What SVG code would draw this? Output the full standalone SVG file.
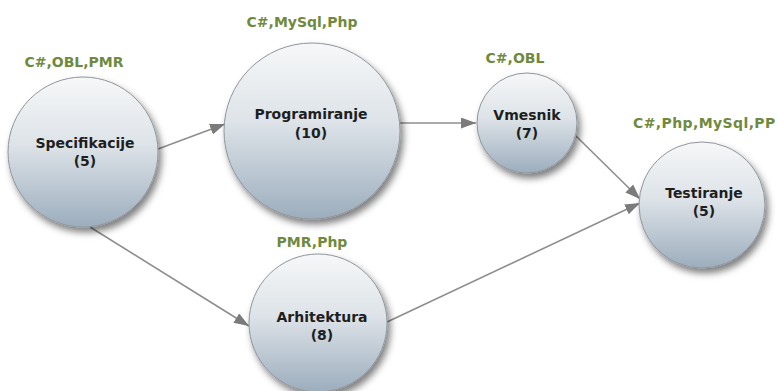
<svg xmlns="http://www.w3.org/2000/svg" width="777" height="391" viewBox="0 0 777 391">
<style>
.node{fill:url(#g);stroke:#8f959b;stroke-width:1;filter:url(#sh)}
.t{font-family:"DejaVu Sans",Verdana,sans-serif;font-weight:bold;font-size:14px;fill:#1e1e1e;text-anchor:middle}
.lb{font-family:"DejaVu Sans",Verdana,sans-serif;font-weight:bold;font-size:14px;fill:#6f8a3c;text-anchor:middle}
.c{stroke:#8e8e8e;stroke-width:1.6;fill:none;marker-end:url(#a)}
</style>
<defs>
<linearGradient id="g" x1="0" y1="0" x2="0" y2="1">
<stop offset="0" stop-color="#f6f7f8"/>
<stop offset="0.45" stop-color="#dde3e8"/>
<stop offset="1" stop-color="#9cadbd"/>
</linearGradient>
<filter id="sh" x="-30%" y="-30%" width="160%" height="160%">
<feDropShadow dx="3" dy="5" stdDeviation="3.5" flood-color="#000" flood-opacity="0.5"/>
</filter>
<marker id="a" markerUnits="userSpaceOnUse" markerWidth="16" markerHeight="12" refX="15" refY="5.5" orient="auto">
<path d="M0,0 L15,5.5 L0,11 z" fill="#7b7b7b"/>
</marker>
</defs>
<rect width="777" height="391" fill="#ffffff"/>
<g id="connectors">
<line class="c" x1="158" y1="149" x2="225" y2="124"/>
<line class="c" x1="400" y1="123" x2="476" y2="123"/>
<line class="c" x1="576" y1="136" x2="640" y2="199"/>
<line class="c" x1="90" y1="227" x2="249" y2="326"/>
<line class="c" x1="387" y1="322" x2="640" y2="203"/>
</g>
<g id="specifikacije">
<circle class="node" cx="83" cy="152" r="75"/>
<text class="lb" x="74" y="67">C#,OBL,PMR</text>
<text class="t" x="85" y="148">Specifikacije</text>
<text class="t" x="85" y="166">(5)</text>
</g>
<g id="programiranje">
<circle class="node" cx="312" cy="131" r="88"/>
<text class="lb" x="302" y="27">C#,MySql,Php</text>
<text class="t" x="311" y="119">Programiranje</text>
<text class="t" x="311" y="138">(10)</text>
</g>
<g id="vmesnik">
<circle class="node" cx="527" cy="123" r="50"/>
<text class="lb" x="515" y="63">C#,OBL</text>
<text class="t" x="527" y="120">Vmesnik</text>
<text class="t" x="527" y="138">(7)</text>
</g>
<g id="testiranje">
<circle class="node" cx="702" cy="205" r="63"/>
<text class="lb" x="633" y="128" style="text-anchor:start;letter-spacing:0.4px">C#,Php,MySql,PP</text>
<text class="t" x="704" y="198">Testiranje</text>
<text class="t" x="704" y="216">(5)</text>
</g>
<g id="arhitektura">
<circle class="node" cx="318" cy="323" r="69"/>
<text class="lb" x="312" y="247">PMR,Php</text>
<text class="t" x="322" y="322">Arhitektura</text>
<text class="t" x="322" y="340">(8)</text>
</g>
</svg>
